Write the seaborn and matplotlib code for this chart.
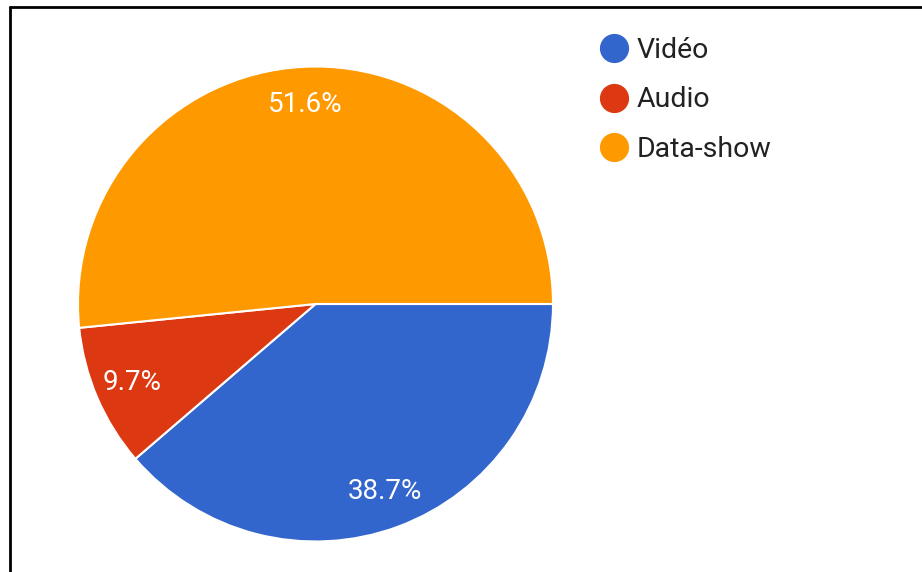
import matplotlib
matplotlib.use('Agg')
import matplotlib.pyplot as plt
from matplotlib.lines import Line2D
import seaborn as sns

categories = ['Vidéo', 'Audio', 'Data-show']
shares = [38.7, 9.7, 51.6]
colours = ['#3366cc', '#dc3912', '#ff9900']

sns.set_theme(style='white')
plt.rcParams['font.family'] = ['Roboto', 'DejaVu Sans']
pal = sns.color_palette(colours)

W, H = 922, 572
fig = plt.figure(figsize=(W / 100, H / 100), dpi=100)

# pie centre ~ (315.5, 304) px from top-left, radius ~237.5 px
cx, cy, r = 315.5, 304, 237.5
ax = fig.add_axes([(cx - r) / W, (H - cy - r) / H, 2 * r / W, 2 * r / H])
wedges, texts, autotexts = ax.pie(
    shares, colors=pal, startangle=0, counterclock=False,
    autopct='%.1f%%', pctdistance=0.84, radius=1,
    wedgeprops=dict(edgecolor='white', linewidth=1.5),
    textprops=dict(color='white', fontsize=20))
ax.set_xlim(-1, 1)
ax.set_ylim(-1, 1)
ax.axis('off')

# legend with round markers
handles = [Line2D([], [], marker='o', linestyle='', markersize=20,
                  markerfacecolor=c, markeredgecolor=c) for c in pal]
fig.legend(handles, categories, loc='upper left',
           bbox_to_anchor=(600 / W, 1 - 37 / H), bbox_transform=fig.transFigure,
           frameon=False, fontsize=20.5, handlelength=0.98, handletextpad=0.3,
           labelspacing=0.79, borderpad=0, borderaxespad=0, labelcolor='#222222')

# frame lines (top and left only)
fig.add_artist(Line2D([9.5 / W, 1], [1 - 7 / H, 1 - 7 / H], color='black', linewidth=2,
                      transform=fig.transFigure))
fig.add_artist(Line2D([9.5 / W, 9.5 / W], [0, 1 - 7 / H], color='black', linewidth=2,
                      transform=fig.transFigure))

fig.savefig('out.png', dpi=100)
